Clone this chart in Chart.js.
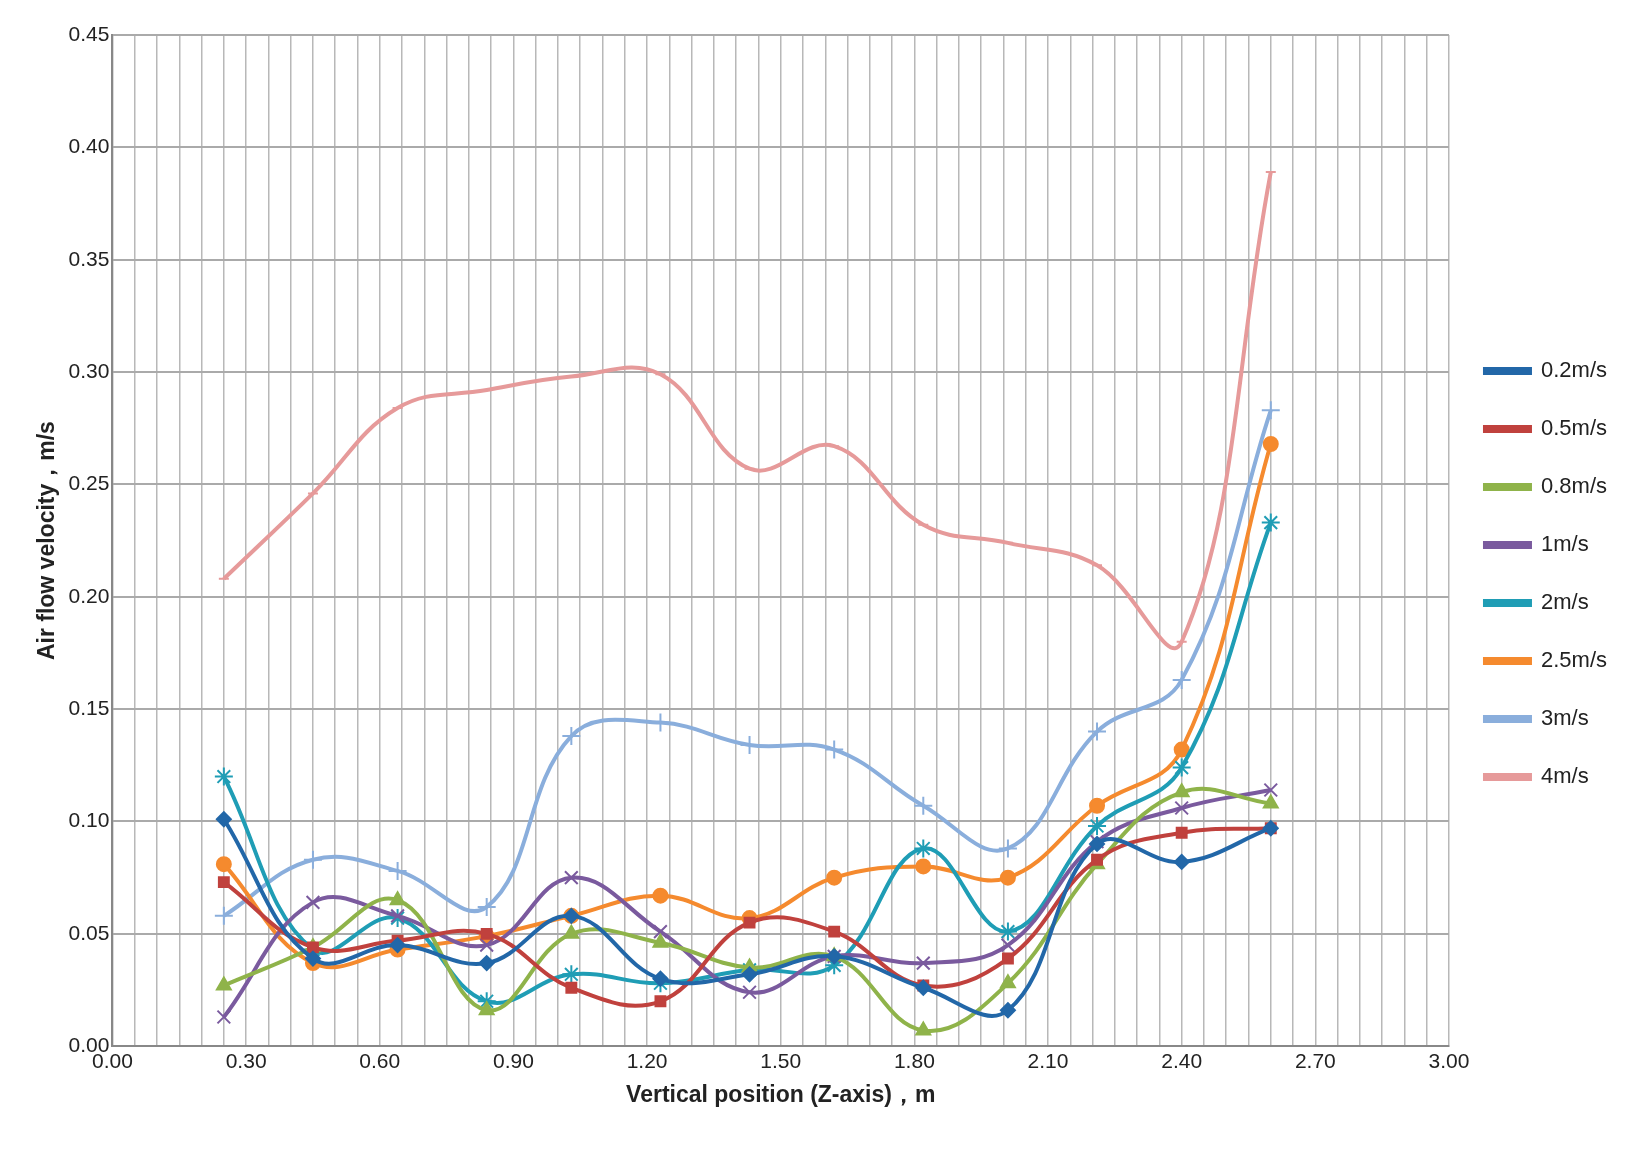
<!DOCTYPE html>
<html>
<head>
<meta charset="utf-8">
<script src="https://cdn.jsdelivr.net/npm/chart.js@4/dist/chart.umd.min.js"></script>
<style>
body { margin: 0; background: #fff; }
</style>
</head>
<body>
<canvas id="grafico" width="1637" height="1173"></canvas>
<script>
// posicoes no eixo Z (m)
const zPos = [0.25, 0.45, 0.64, 0.84, 1.03, 1.23, 1.43, 1.62, 1.82, 2.01, 2.21, 2.40, 2.60];

const v02 = [0.101, 0.039, 0.045, 0.037, 0.058, 0.030, 0.032, 0.040, 0.026, 0.016, 0.090, 0.082, 0.097];
const v05 = [0.073, 0.044, 0.047, 0.050, 0.026, 0.020, 0.055, 0.051, 0.027, 0.039, 0.083, 0.095, 0.097];
const v08 = [0.027, 0.044, 0.065, 0.016, 0.050, 0.046, 0.035, 0.040, 0.007, 0.028, 0.081, 0.113, 0.108];
const v1 = [0.013, 0.064, 0.058, 0.045, 0.075, 0.051, 0.024, 0.040, 0.037, 0.045, 0.091, 0.106, 0.114];
const v2 = [0.120, 0.043, 0.057, 0.020, 0.032, 0.028, 0.034, 0.036, 0.088, 0.051, 0.098, 0.124, 0.233];
const v25 = [0.081, 0.037, 0.043, 0.049, 0.058, 0.067, 0.057, 0.075, 0.080, 0.075, 0.107, 0.132, 0.268];
const v3 = [0.058, 0.083, 0.078, 0.062, 0.138, 0.144, 0.134, 0.132, 0.107, 0.088, 0.140, 0.163, 0.283];
const v4 = [0.208, 0.246, 0.284, 0.292, 0.298, 0.299, 0.257, 0.267, 0.232, 0.224, 0.214, 0.180, 0.389];

const xLabels = [0, 0.3, 0.6, 0.9, 1.2, 1.5, 1.8, 2.1, 2.4, 2.7, 3.0];

function serie(label, vals, cor, estilo, raio) {
    return {
        label: label,
        data: zPos.map((z, i) => ({ x: z, y: vals[i] })),
        borderColor: cor,
        backgroundColor: cor,
        borderWidth: 4,
        showLine: true,
        tension: 0.4,
        pointStyle: estilo,
        pointRadius: raio,
        pointBorderWidth: 2
    };
}

const ctx = document.getElementById('grafico');
new Chart(ctx, {
    type: 'scatter',
    data: {
        datasets: [
            serie('0.2m/s', v02, '#2267a8', 'rectRot', 7),
            serie('0.5m/s', v05, '#c0413d', 'rect', 7),
            serie('0.8m/s', v08, '#8fb34a', 'triangle', 8),
            serie('1m/s', v1, '#7a5a9e', 'crossRot', 9),
            serie('2m/s', v2, '#1f9db5', 'star', 9),
            serie('2.5m/s', v25, '#f58a2e', 'circle', 7),
            serie('3m/s', v3, '#8aaedc', 'cross', 9),
            serie('4m/s', v4, '#e69a9a', 'line', 5)
        ]
    },
    options: {
        responsive: false,
        animation: false,
        layout: { padding: { left: 30, right: 20, top: 35, bottom: 60 } },
        plugins: {
            legend: {
                position: 'right',
                labels: {
                    boxWidth: 45,
                    boxHeight: 4,
                    padding: 36,
                    color: '#222',
                    font: { family: 'Liberation Sans Narrow, Liberation Sans', size: 22 }
                }
            }
        },
        scales: {
            x: {
                type: 'linear',
                min: 0,
                max: 3,
                ticks: {
                    stepSize: 0.05,
                    autoSkip: false,
                    maxRotation: 0,
                    color: '#222',
                    font: { family: 'Liberation Sans Narrow, Liberation Sans', size: 21 },
                    callback: function(v) {
                        const m = xLabels.find(t => Math.abs(t - v) < 1e-6);
                        return m === undefined ? '' : m.toFixed(2);
                    }
                },
                grid: { color: '#b8b8b8', lineWidth: 1.5, drawTicks: false },
                border: { color: '#888', width: 2 },
                title: {
                    display: true,
                    text: 'Vertical position (Z-axis)，m',
                    color: '#222',
                    font: { family: 'Liberation Sans Narrow, Liberation Sans', size: 23, weight: 'bold' }
                }
            },
            y: {
                min: 0,
                max: 0.45,
                ticks: {
                    stepSize: 0.05,
                    color: '#222',
                    font: { family: 'Liberation Sans Narrow, Liberation Sans', size: 21 },
                    callback: v => v.toFixed(2)
                },
                grid: { color: '#aaa', lineWidth: 2, drawTicks: false },
                border: { color: '#888', width: 2 },
                title: {
                    display: true,
                    text: 'Air flow velocity，m/s',
                    color: '#222',
                    font: { family: 'Liberation Sans Narrow, Liberation Sans', size: 23, weight: 'bold' }
                }
            }
        }
    }
});
</script>
</body>
</html>
